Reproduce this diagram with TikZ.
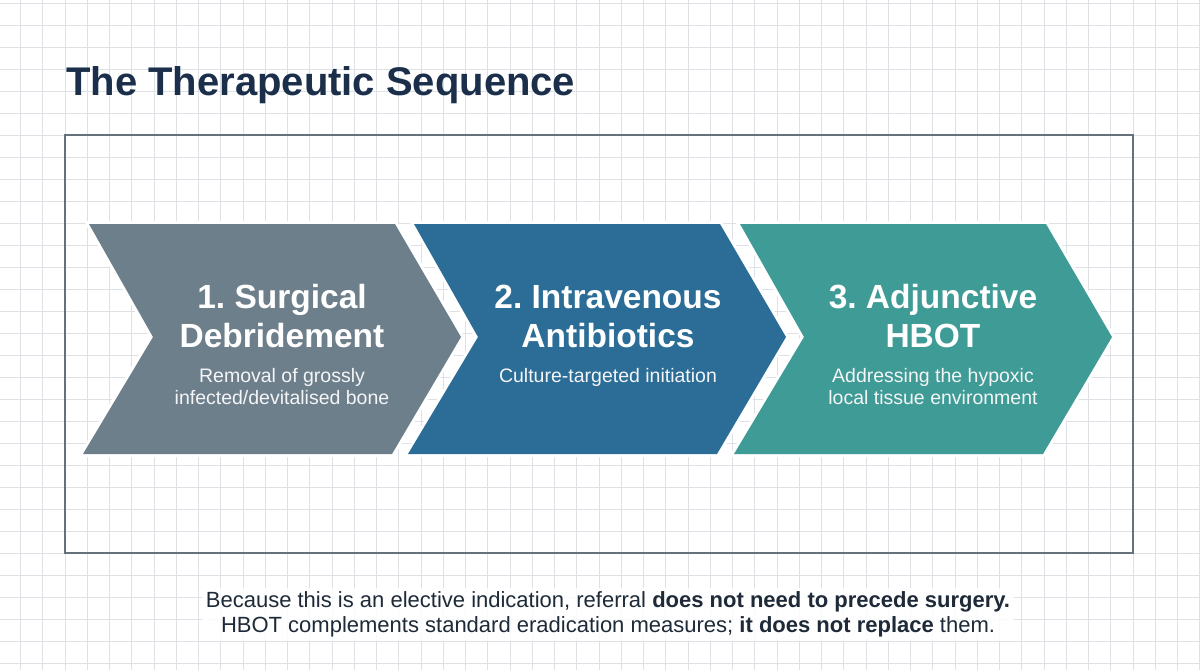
\documentclass[tikz,border=0pt]{standalone}
\usepackage{fontspec}
\setmainfont{Liberation Sans}
\usetikzlibrary{positioning}
\frenchspacing

\definecolor{gridgray}{HTML}{DDE1E5}
\definecolor{framegray}{HTML}{66717C}
\definecolor{titlenavy}{HTML}{1B2F4B}
\definecolor{stepgray}{HTML}{6E7F8C}
\definecolor{stepblue}{HTML}{2B6D96}
\definecolor{stepteal}{HTML}{3F9B96}
\definecolor{notetext}{HTML}{1E2A38}

\tikzset{
  gridline/.style={draw=gridgray, line width=1pt},
  chevron/.style={preaction={draw=white, line width=6pt, line join=miter}},
  headtext/.style={text=white, font=\bfseries\fontsize{33.5}{39}\selectfont, align=center, anchor=base},
  subtext/.style={text=white!92!stepgray, font=\fontsize{19.5}{21.5}\selectfont, align=center, anchor=base},
}

\begin{document}
\frenchspacing
\begin{tikzpicture}[x=1pt, y=-1pt]
  % Background and grid
  \useasboundingbox (0,0) rectangle (1200,670);
  \fill[white] (0,0) rectangle (1200,670);
  \foreach \i in {0,...,53}
    \draw[gridline] (20.5+22.25*\i,0) -- ++(0,670);
  \foreach \j in {0,...,30}
    \draw[gridline] (0,3+22*\j) -- ++(1200,0);

  % Title and frame
  \node[anchor=base west, inner sep=0pt, text=titlenavy,
    font=\bfseries\fontsize{40}{48}\selectfont] (title) at (66,95) {The Therapeutic Sequence};
  \draw[framegray, line width=2pt] (65,135) rectangle (1133,553);

  % Define chevrons
  \fill[stepgray, chevron] (89,224) -- (395,224) -- (461,337) -- (392,454) -- (83,454) -- (153,337) -- cycle;
  \fill[stepblue, chevron] (414,224) -- (720,224) -- (786,337) -- (717,454) -- (408,454) -- (478,337) -- cycle;
  \fill[stepteal, chevron] (740,224) -- (1046,224) -- (1112,337) -- (1043,454) -- (734,454) -- (804,337) -- cycle;

  % Define nodes (base = last line)
  \node[headtext] (surgery) at (282,347) {1. Surgical\\Debridement};
  \node[subtext]  (surgerynote) at (282,404) {Removal of grossly\\infected/devitalised bone};
  \node[headtext] (antibio) at (608,347) {2. Intravenous\\Antibiotics};
  \node[subtext]  (antibionote) at (608,382) {Culture-targeted initiation};
  \node[headtext] (hbot) at (933,347) {3. Adjunctive\\HBOT};
  \node[subtext]  (hbotnote) at (933,404) {Addressing the hypoxic\\local tissue environment};

  % Closing remark
  \node[anchor=base, align=center, text=notetext, fill=white, fill opacity=0.85, text opacity=1,
    inner sep=4pt, font=\fontsize{22}{24.5}\selectfont] (remark) at (608,632)
    {Because this is an elective indication, referral \textbf{does not need to precede surgery.}\\
     HBOT complements standard eradication measures; \textbf{it does not replace} them.};
\end{tikzpicture}
\end{document}
